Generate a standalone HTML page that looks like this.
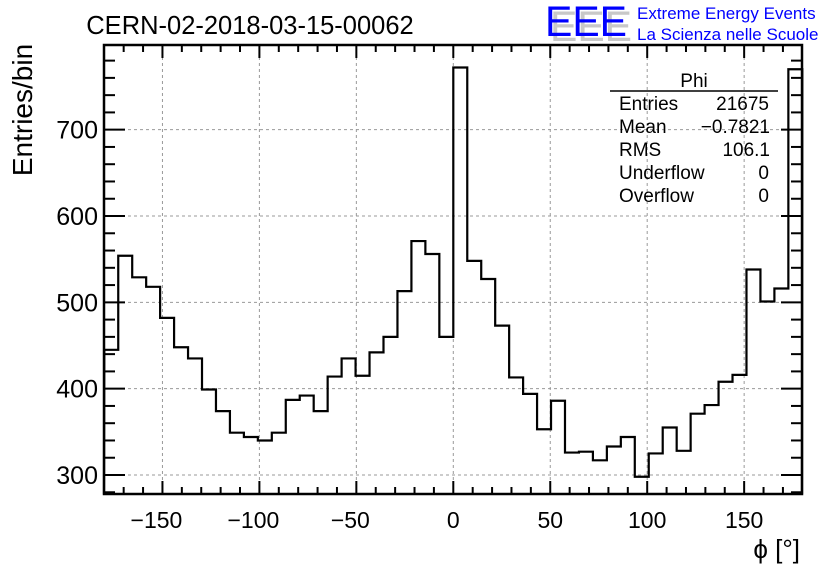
<!DOCTYPE html>
<html><head><meta charset="utf-8"><style>
body{margin:0;background:#fff}
svg{display:block;font-family:"Liberation Sans",sans-serif}
</style></head><body>
<svg id="c" width="836" height="572" viewBox="0 0 836 572">
<rect width="836" height="572" fill="#fff"/>
<g id="grid"></g>
<g id="hist"></g>
<g id="axes"></g>
<text x="250" y="34" font-size="25.5" text-anchor="middle">CERN-02-2018-03-15-00062</text>
<g>
<text x="550" y="41" font-size="43" fill="#c8c8c8" textLength="82" lengthAdjust="spacingAndGlyphs">EEE</text>
<text x="545" y="36" font-size="43" fill="#0000ff" textLength="82" lengthAdjust="spacingAndGlyphs">EEE</text>
<text x="637" y="19" font-size="17" fill="#0000ff">Extreme Energy Events</text>
<text x="637" y="40" font-size="17" fill="#0000ff">La Scienza nelle Scuole</text>
</g>
<text transform="translate(32,110) rotate(-90)" font-size="28" text-anchor="middle">Entries/bin</text>
<text x="800" y="558" font-size="26" text-anchor="end">ϕ [°]</text>
<g font-size="19">
<text x="694" y="87" text-anchor="middle">Phi</text>
<line x1="610" y1="91" x2="778" y2="91" stroke="#000" stroke-width="1.5"/>
<text x="619" y="110">Entries</text><text x="769" y="110" text-anchor="end">21675</text>
<text x="619" y="133">Mean</text><text x="770" y="133" text-anchor="end">−0.7821</text>
<text x="619" y="156">RMS</text><text x="770" y="156" text-anchor="end">106.1</text>
<text x="619" y="179">Underflow</text><text x="769" y="179" text-anchor="end">0</text>
<text x="619" y="202">Overflow</text><text x="769" y="202" text-anchor="end">0</text>
</g>
</svg>
<script>
const binEdgesStart = -180;
const binWidth = 7.2;
const counts = [445,554,529,518,482,448,435,399,374,349,344,340,349,387,392,374,414,435,415,442,460,513,571,556,460,772,548,527,473,413,394,353,386,326,327,317,333,344,298,325,355,328,371,381,408,416,538,501,516,770];
const xTicks = [-150,-100,-50,0,50,100,150];
const yTicks = [300,400,500,600,700];
const L=104,R=802,T=45,B=494;
const xs = v => 453.3 + (v)*1.939;
const ys = v => 475 - (v-300)*0.8633;
const NS="http://www.w3.org/2000/svg";
function mk(tag,attrs,parent){const e=document.createElementNS(NS,tag);for(const k in attrs)e.setAttribute(k,attrs[k]);parent.appendChild(e);return e;}
const grid=document.getElementById('grid'),hist=document.getElementById('hist'),axes=document.getElementById('axes');
xTicks.forEach(v=>{const l=mk('line',{x1:xs(v),x2:xs(v),y1:T,y2:B,stroke:'#999','stroke-dasharray':'3,3'},grid);

});
yTicks.forEach(v=>{const l=mk('line',{x1:L,x2:R,y1:ys(v),y2:ys(v),stroke:'#999','stroke-dasharray':'3,3'},grid);

});
let d='M'+L+','+B;
counts.forEach((c,i)=>{const x0=xs(binEdgesStart+i*binWidth),x1=xs(binEdgesStart+(i+1)*binWidth);d+=' L'+x0+','+ys(c)+' L'+x1+','+ys(c);});
d+=' L'+R+','+B;
const p=mk('path',{d:d,fill:'none',stroke:'#000','stroke-width':2.2},hist);


const fr=mk('rect',{x:L,y:T,width:R-L,height:B-T,fill:'none',stroke:'#000','stroke-width':2.5},axes);


for(let v=-170;v<=170;v+=10){const big=v%50===0;const x=xs(v);
mk('line',{x1:x,x2:x,y1:B,y2:B-(big?13:7),stroke:'#000','stroke-width':2},axes);
mk('line',{x1:x,x2:x,y1:T,y2:T+(big?13:7),stroke:'#000','stroke-width':2},axes);}
for(let v=280;v<=800;v+=20){const big=v%100===0;const y=ys(v);if(y<T||y>B)continue;
mk('line',{x1:L,x2:L+(big?21:11),y1:y,y2:y,stroke:'#000','stroke-width':2},axes);
mk('line',{x1:R,x2:R-(big?21:11),y1:y,y2:y,stroke:'#000','stroke-width':2},axes);}
xTicks.forEach(v=>{const t=mk('text',{x:xs(v)-(v<0?6:0),y:528,'font-size':23,'text-anchor':'middle'},axes);t.textContent=(v<0?'−'+(-v):v);

});
yTicks.forEach(v=>{const t=mk('text',{x:98,y:ys(v)+9,'font-size':25,'text-anchor':'end'},axes);t.textContent=v;

});
</script>
</body></html>
